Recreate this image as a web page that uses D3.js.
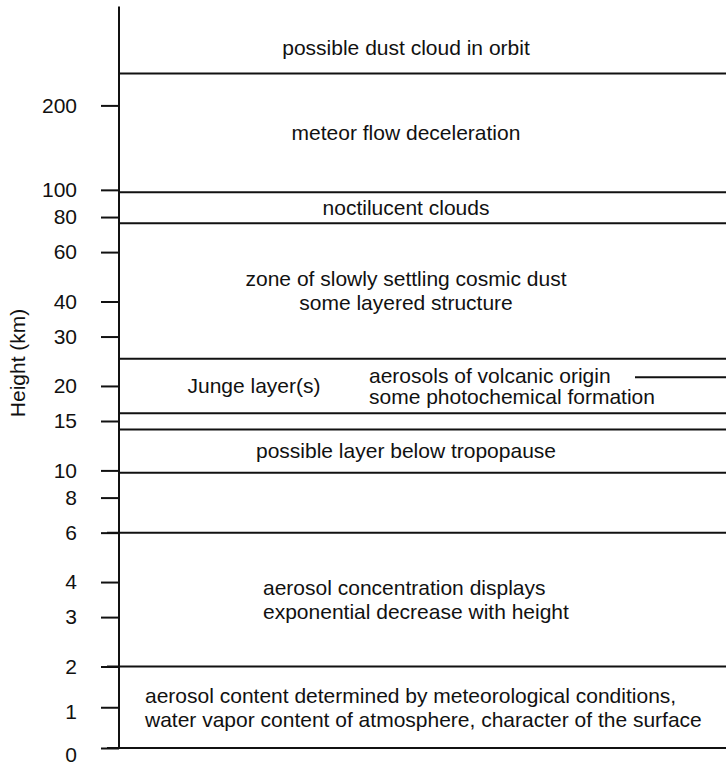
<!DOCTYPE html>
<html>
<head>
<meta charset="utf-8">
<script src="https://cdn.jsdelivr.net/npm/d3@7"></script>
<style>
  html, body { margin: 0; padding: 0; background: #fff; }
  svg { display: block; }
  text { font-family: "Liberation Sans", Arial, Helvetica, sans-serif; fill: #111; }
</style>
</head>
<body>
<svg id="chart" width="726" height="766"></svg>
<script>
// ---- data ----
const tickValues = [0, 1, 2, 3, 4, 6, 8, 10, 15, 20, 30, 40, 60, 80, 100, 200];
const tickLabels = ["0", "1", "2", "3", "4", "6", "8", "10", "15", "20", "30", "40", "60", "80", "100", "200"];
const axisTop = 450;            // km, top of the drawn axis
const boundaries = [260, 98, 76, 25, 16, 14, 9.8, 6, 2, 0];   // km, layer limits
const pointerHeight = 21.5;     // km, short line marking the volcanic aerosol layer
// zone labels: [lower km, upper km, lines]
const zoneLower = [260, 98, 76, 25, 9.8, 2, 0];
const zoneUpper = [400, 260, 98, 76, 14, 6, 2];
const zoneText = [
  ["possible dust cloud in orbit"],
  ["meteor flow deceleration"],
  ["noctilucent clouds"],
  ["zone of slowly settling cosmic dust", "some layered structure"],
  ["possible layer below tropopause"],
  ["aerosol concentration displays", "exponential decrease with height"],
  ["aerosol content determined by meteorological conditions,", "water vapor content of atmosphere, character of the surface"]
];
const zoneAlign = ["middle", "middle", "middle", "middle", "middle", "start", "start"];
const jungeLower = 16, jungeUpper = 25;
const jungeTitle = "Junge layer(s)";
const jungeNotes = ["aerosols of volcanic origin", "some photochemical formation"];
const yTitle = "Height (km)";

// ---- layout ----
const axisX = 119, rightX = 726;
const fontSize = 21;

// hand-drawn axis: logarithmic above 2 km, linear below
const yLog = d3.scaleLog().domain([2, 200]).range([666.5, 105.4]);
const yLin = d3.scaleLinear().domain([0, 2]).range([748, 666.5]);
const hybrid = h => (h >= 2 ? yLog(h) : yLin(h));
const calib = Array.from(new Set(tickValues.concat(boundaries, zoneLower, zoneUpper,
  [axisTop, pointerHeight, jungeLower, jungeUpper]))).sort((a, b) => a - b);
const y = d3.scaleLinear().domain(calib).range(calib.map(hybrid));

const svg = d3.select("#chart");

// axis
const labelShift = { 0: 7, 1: 5 };
const axis = d3.axisLeft(y)
  .tickValues(tickValues)
  .tickFormat((d, i) => tickLabels[i])
  .tickSize(18)
  .tickPadding(24);
const gAxis = svg.append("g")
  .attr("transform", `translate(${axisX},0)`)
  .call(axis);
gAxis.select(".domain").remove();
gAxis.selectAll(".tick line").attr("stroke", "#111").attr("stroke-width", 2);
gAxis.selectAll(".tick text")
  .attr("font-size", fontSize)
  .attr("fill", "#111")
  .attr("y", d => labelShift[d] || 0)
  .style("font-family", "'Liberation Sans', Arial, sans-serif");

svg.append("line")
  .attr("x1", axisX).attr("x2", axisX)
  .attr("y1", y(axisTop)).attr("y2", y(0))
  .attr("stroke", "#111").attr("stroke-width", 2);

// boundaries
svg.append("g").selectAll("line")
  .data(boundaries)
  .join("line")
  .attr("x1", d => (d === 0 || d === 2 || d === 6) ? axisX - 12 : axisX)
  .attr("x2", rightX)
  .attr("y1", d => y(d)).attr("y2", d => y(d))
  .attr("stroke", "#111").attr("stroke-width", 2);

// pointer line
svg.append("line")
  .attr("x1", 635).attr("x2", rightX)
  .attr("y1", y(pointerHeight)).attr("y2", y(pointerHeight))
  .attr("stroke", "#111").attr("stroke-width", 2);

// zone labels
const lineH = 24;
const centerX = 406;
const startX = [0, 0, 0, 0, 0, 263, 145];
zoneText.forEach((lines, i) => {
  const yc = (y(zoneLower[i]) + y(zoneUpper[i])) / 2;
  const n = lines.length;
  const t = svg.append("text")
    .attr("font-size", fontSize)
    .attr("text-anchor", zoneAlign[i]);
  lines.forEach((s, j) => {
    t.append("tspan")
      .attr("x", zoneAlign[i] === "middle" ? centerX : startX[i])
      .attr("y", yc + (j - (n - 1) / 2) * lineH)
      .attr("dy", "0.35em")
      .text(s);
  });
});

// Junge layer
const yj = (y(jungeLower) + y(jungeUpper)) / 2;
svg.append("text")
  .attr("x", 254).attr("y", yj).attr("dy", "0.35em")
  .attr("font-size", fontSize).attr("text-anchor", "middle")
  .text(jungeTitle);
const tj = svg.append("text").attr("font-size", fontSize);
jungeNotes.forEach((s, j) => {
  tj.append("tspan")
    .attr("x", 369)
    .attr("y", yj + (j - 0.5) * 21)
    .attr("dy", "0.35em")
    .text(s);
});

// y title
svg.append("text")
  .attr("transform", `translate(18,${y(20) - 23}) rotate(-90)`)
  .attr("dy", "0.35em")
  .attr("font-size", fontSize)
  .attr("text-anchor", "middle")
  .text(yTitle);
</script>
</body>
</html>
